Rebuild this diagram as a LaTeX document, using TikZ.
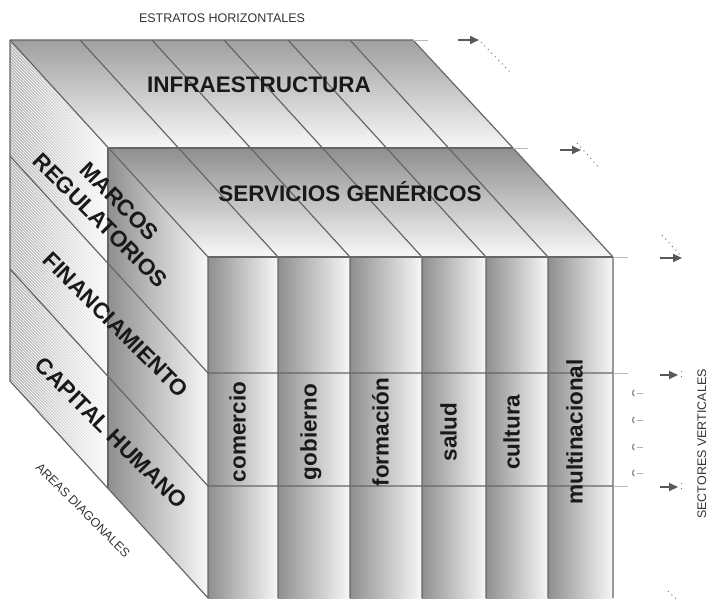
\documentclass[tikz,border=0pt]{standalone}
\usepackage{fontspec}
\setmainfont{Liberation Sans}
\usetikzlibrary{patterns,arrows.meta}
\definecolor{edgegray}{gray}{0.40}
\definecolor{darkshade}{gray}{0.56}
\definecolor{lightshade}{gray}{0.97}
\tikzset{
  biglabel/.style={font=\fontsize{22.5}{27}\selectfont\bfseries, text=black!90},
  smalllabel/.style={font=\fontsize{12.5}{14}\selectfont, text=black!80},
  edge/.style={draw=edgegray, line width=1.2pt},
  tick/.style={draw=gray!55, line width=1pt},
  sidearrow/.style={draw=black!65, line width=1.8pt, -{Triangle[length=9pt,width=8pt]}},
  dotline/.style={draw=black!55, line width=1pt, dash pattern=on 1pt off 4pt}
}
\begin{document}
\begin{tikzpicture}[x=1pt,y=-1pt]
  \useasboundingbox (0,0) rectangle (710,598);
  \clip (0,0) rectangle (710,598);
  % top face corners (back, middle, front) and bottom corners
  \coordinate (A) at (10,40);
  \coordinate (B) at (413,40);
  \coordinate (A1) at (108,148);
  \coordinate (B1) at (513,148);
  \coordinate (A2) at (208,257);
  \coordinate (B2) at (613,257);
  \coordinate (D) at (10,381);
  \coordinate (D1) at (108,488);
  \coordinate (D2) at (208,598);
  \coordinate (C2) at (613,598);
  % shaded top strata
  \shade[top color=gray!75, bottom color=lightshade] (A)--(B)--(B1)--(A1)--cycle;
  \shade[top color=darkshade, bottom color=lightshade] (A1)--(B1)--(B2)--(A2)--cycle;
  % left side: hatched back part, shaded front part
  \shade[left color=gray!60, right color=gray!5] (A)--(A1)--(D1)--(D)--cycle;
  \fill[pattern=north west lines, pattern color=white] (A)--(A1)--(D1)--(D)--cycle;
  \shade[left color=darkshade, right color=lightshade] (A1)--(A2)--(D2)--(D1)--cycle;
  % front columns
  \foreach \xa/\xb in {208/278,278/350,350/422,422/486,486/548,548/613}
    \shade[left color=darkshade, right color=lightshade] (\xa,257) rectangle (\xb,598);
  % column edges over the top and down the front
  \foreach \x in {278,350,422,486,548}
    \draw[edge] ({\x-198},40) -- (\x,257) -- (\x,598);
  % outline, strata and bands
  \draw[edge] (A)--(B)--(B1)--(B2)--(C2);
  \draw[edge] (A)--(A2)--(D2);
  \draw[edge] (A)--(D)--(D2);
  \draw[edge] (A1)--(D1);
  \draw[edge] (A1)--(B1);
  \draw[edge] (A2)--(B2);
  \draw[edge] (10,156)--(208,373)--(613,373);
  \draw[edge] (10,269)--(208,486)--(613,486);
  % light ticks on the right
  \draw[tick] (B)--++(15,0);
  \draw[tick] (B1)--++(15,0);
  \draw[tick] (B2)--++(15,0);
  \draw[tick] (613,373)--++(15,0);
  \draw[tick] (613,486)--++(15,0);
  % arrows with dotted traces
  \draw[sidearrow] (458,40)--(479,40);
  \draw[dotline] (481,42)--(510,72);
  \draw[sidearrow] (560,150)--(581,150);
  \draw[dotline] (577,143)--(600,169);
  \draw[sidearrow] (660,258)--(682,258);
  \draw[dotline] (662,235)--(681,256);
  \draw[sidearrow] (660,375)--(678,375);
  \draw[dotline] (681,371)--(681,381);
  \draw[sidearrow] (660,487)--(678,487);
  \draw[dotline] (681,483)--(681,493);
  \draw[dotline] (668,591)--(678,601);
  % small marks between the bands
  \foreach \y in {393,420,447,473} {
    \draw[black!45, line width=1.3pt] (634.25,{\y+3}) arc (120:240:3.5);
    \draw[black!30, line width=0.6pt] (637,\y)--(643,\y);
  }
  % labels
  \node[smalllabel, anchor=base] (strata) at (222,22) {ESTRATOS HORIZONTALES};
  \node[biglabel, anchor=base] (infra) at (259,92) {INFRAESTRUCTURA};
  \node[biglabel, anchor=base] (servicios) at (350,201) {SERVICIOS GENÉRICOS};
  \node[biglabel, rotate=-45, align=center] (marcos) at (110,211) {MARCOS\\REGULATORIOS};
  \node[biglabel, rotate=-45] (finan) at (116,325) {FINANCIAMIENTO};
  \node[biglabel, rotate=-45] (capital) at (111,433) {CAPITAL HUMANO};
  \node[smalllabel, rotate=-45] (areas) at (83,510) {AREAS DIAGONALES};
  \node[biglabel, rotate=90, anchor=mid] (comercio) at (243,432) {comercio};
  \node[biglabel, rotate=90, anchor=mid] (gobierno) at (314,432) {gobierno};
  \node[biglabel, rotate=90, anchor=mid] (formacion) at (386,432) {formación};
  \node[biglabel, rotate=90, anchor=mid] (salud) at (454,432) {salud};
  \node[biglabel, rotate=90, anchor=mid] (cultura) at (517,432) {cultura};
  \node[biglabel, rotate=90, anchor=mid] (multi) at (580,432) {multinacional};
  \node[smalllabel, rotate=90, anchor=base] (sectores) at (706,444) {SECTORES VERTICALES};
\end{tikzpicture}
\end{document}
